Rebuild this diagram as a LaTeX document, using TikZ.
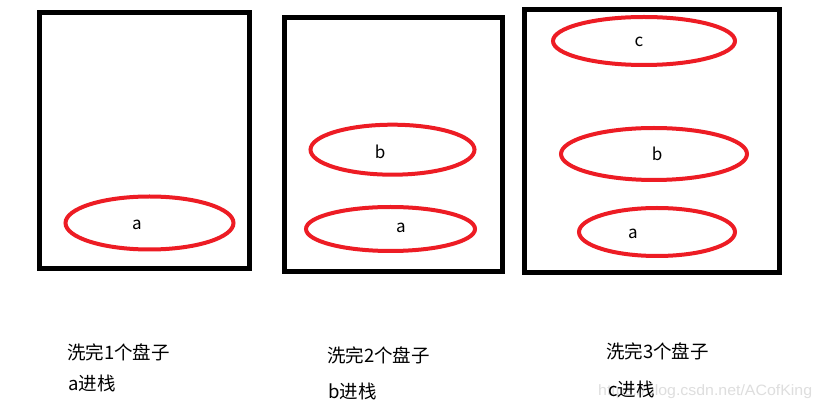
\documentclass[tikz,border=0pt]{standalone}
\usepackage{fontspec}
\setmainfont{Noto Sans CJK SC}
\newfontfamily\wmfont{Liberation Sans}
\usetikzlibrary{shapes.geometric}
\definecolor{pred}{HTML}{ED1C24}
\begin{document}
\begin{tikzpicture}[x=1pt,y=-1pt,
  stack/.style={draw=black,line width=5pt,rectangle,inner sep=0pt},
  plate/.style={draw=pred,line width=4pt,ellipse,inner sep=0pt},
  lbl/.style={inner sep=0pt,font=\fontsize{17}{20}\selectfont},
  captxt/.style={inner sep=0pt,anchor=west,font=\fontsize{18.5}{22}\selectfont}]
\useasboundingbox (0,0) rectangle (819,411);
\fill[white] (0,0) rectangle (819,411);
% stacks
\node[stack,minimum width=210pt,minimum height=255.5pt] (s1) at (144.5,140.75) {};
\node[stack,minimum width=217.7pt,minimum height=254.3pt] (s2) at (393.6,144.6) {};
\node[stack,minimum width=255pt,minimum height=263pt] (s3) at (652,141) {};
% plates
\node[plate,minimum width=168pt,minimum height=53pt] (a1) at (149.5,223) {};
\node[plate,minimum width=164pt,minimum height=50pt] (b2) at (392.5,149.7) {};
\node[plate,minimum width=169pt,minimum height=44pt] (a2) at (390.5,229) {};
\node[plate,minimum width=182pt,minimum height=48pt] (c3) at (644,41) {};
\node[plate,minimum width=186pt,minimum height=52pt] (b3) at (654,154) {};
\node[plate,minimum width=156pt,minimum height=48pt] (a3) at (657,232) {};
% plate labels
\node[lbl] (la1) at (137,225) {a};
\node[lbl] (lb2) at (380,152) {b};
\node[lbl] (la2) at (401,228) {a};
\node[lbl] (lc3) at (639,42) {c};
\node[lbl] (lb3) at (657,154) {b};
\node[lbl] (la3) at (633,234) {a};
% watermark
\node[inner sep=0pt,anchor=west,text=black!13,font=\wmfont\fontsize{15}{17}\selectfont,xscale=1.06] (wm) at (598,392) {https://blog.csdn.net/ACofKing};
% captions
\node[captxt] (t1) at (67,352) {洗完1个盘子};
\node[captxt] (u1) at (68,383) {a进栈};
\node[captxt] (t2) at (327,355) {洗完2个盘子};
\node[captxt] (u2) at (328,391) {b进栈};
\node[captxt] (t3) at (606,351) {洗完3个盘子};
\node[captxt] (u3) at (608,389) {c进栈};
\end{tikzpicture}
\end{document}
